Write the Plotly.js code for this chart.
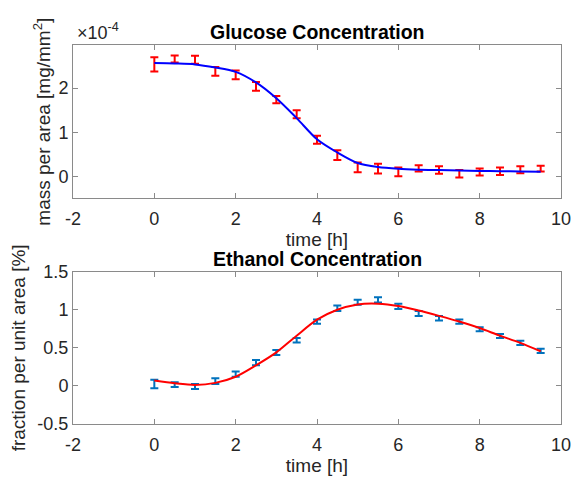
<!DOCTYPE html>
<html>
<head>
<meta charset="utf-8">
<script src="https://cdn.plot.ly/plotly-3.0.1.min.js"></script>
<style>html,body{margin:0;padding:0;background:#fff;}#chart{width:573px;height:479px;}</style>
</head>
<body>
<div id="chart"></div>
<script>
// time points [h]
var timeH = [0, 0.5, 1, 1.5, 2, 2.5, 3, 3.5, 4, 4.5, 5, 5.5, 6, 6.5, 7, 7.5, 8, 8.5, 9, 9.5];

// Glucose (x 1e-4 mg/mm^2)
var glucoseMean = [2.54, 2.66, 2.645, 2.38, 2.30, 2.04, 1.74, 1.41, 0.83, 0.48, 0.20, 0.175, 0.10, 0.18, 0.145, 0.06, 0.096, 0.115, 0.15, 0.175];
var glucoseErr  = [0.16, 0.08, 0.09, 0.10, 0.10, 0.10, 0.08, 0.09, 0.09, 0.11, 0.11, 0.11, 0.10, 0.07, 0.085, 0.085, 0.08, 0.085, 0.08, 0.065];
var glucoseFit  = [2.57, 2.56, 2.54, 2.47, 2.37, 2.13, 1.77, 1.32, 0.84, 0.54, 0.30, 0.21, 0.17, 0.15, 0.14, 0.13, 0.12, 0.115, 0.11, 0.10];

// Ethanol (%)
var ethanolMean = [0.025, 0.017, -0.007, 0.063, 0.155, 0.305, 0.44, 0.60, 0.845, 1.02, 1.10, 1.13, 1.045, 0.95, 0.89, 0.845, 0.745, 0.655, 0.565, 0.46];
var ethanolErr  = [0.055, 0.03, 0.033, 0.037, 0.033, 0.035, 0.033, 0.03, 0.027, 0.035, 0.033, 0.035, 0.033, 0.033, 0.03, 0.027, 0.027, 0.027, 0.027, 0.027];
var ethanolFit  = [0.07, 0.035, 0.013, 0.04, 0.12, 0.27, 0.44, 0.66, 0.87, 1.00, 1.07, 1.08, 1.05, 0.99, 0.92, 0.846, 0.76, 0.66, 0.566, 0.455];

// tick labels
var xTickVals = [-2, 0, 2, 4, 6, 8, 10];
var xTickText = ["-2", "0", "2", "4", "6", "8", "10"];
var gTickVals = [0, 1, 2];
var gTickText = ["0", "1", "2"];
var eTickVals = [-0.5, 0, 0.5, 1, 1.5];
var eTickText = ["-0.5", "0", "0.5", "1", "1.5"];

var FONT = "Liberation Sans, Arial, Helvetica, sans-serif";
var AXC = "#8a8a8a";
var TXC = "#262626";

var traces = [
  {x: timeH, y: glucoseMean, mode: "markers", marker: {opacity: 0, size: 2},
   error_y: {type: "data", array: glucoseErr, visible: true, color: "#ff0000", thickness: 2, width: 4},
   xaxis: "x", yaxis: "y", showlegend: false, hoverinfo: "skip"},
  {x: timeH, y: glucoseFit, mode: "lines", line: {color: "#0000ff", width: 2, shape: "spline", smoothing: 0.8},
   xaxis: "x", yaxis: "y", showlegend: false},
  {x: timeH, y: ethanolMean, mode: "markers", marker: {opacity: 0, size: 2},
   error_y: {type: "data", array: ethanolErr, visible: true, color: "#0072bd", thickness: 2, width: 4},
   xaxis: "x2", yaxis: "y2", showlegend: false, hoverinfo: "skip"},
  {x: timeH, y: ethanolFit, mode: "lines", line: {color: "#ff0000", width: 2, shape: "spline", smoothing: 0.8},
   xaxis: "x2", yaxis: "y2", showlegend: false}
];

function xAxis(anchor) {
  return {
    anchor: anchor, domain: [0, 1], range: [-2, 10],
    tickvals: xTickVals, ticktext: xTickText,
    ticks: "inside", ticklen: 5, tickcolor: AXC, tickwidth: 1,
    showline: true, linecolor: AXC, linewidth: 1, mirror: "ticks",
    showgrid: false, zeroline: false,
    ticklabelstandoff: 4,
    tickfont: {family: FONT, size: 18, color: TXC},
    title: {text: "time [h]", font: {family: FONT, size: 19, color: TXC}, standoff: 0}
  };
}
function yAxis(anchor, domain, range, tv, tt, title, standoff) {
  return {
    anchor: anchor, domain: domain, range: range,
    tickvals: tv, ticktext: tt,
    ticks: "inside", ticklen: 5, tickcolor: AXC, tickwidth: 1,
    showline: true, linecolor: AXC, linewidth: 1, mirror: "ticks",
    showgrid: false, zeroline: false,
    tickfont: {family: FONT, size: 18, color: TXC},
    title: {text: title, font: {family: FONT, size: 19, color: TXC}, standoff: standoff}
  };
}

var topDom = [0.5955, 1];
var botDom = [0, 0.4018];

var layout = {
  width: 573, height: 479,
  margin: {l: 73, r: 12, t: 45, b: 55},
  paper_bgcolor: "#ffffff", plot_bgcolor: "#ffffff",
  xaxis: xAxis("y"),
  yaxis: yAxis("x", topDom, [-0.5, 2.98], gTickVals, gTickText, "mass per area [mg/mm<sup>2</sup>]", 2),
  xaxis2: xAxis("y2"),
  yaxis2: yAxis("x2", botDom, [-0.5, 1.5], eTickVals, eTickText, "fraction per unit area [%]", 6),
  annotations: [
    {text: "<b>Glucose Concentration</b>", xref: "paper", yref: "paper", x: 0.5, y: 1,
     xanchor: "center", yanchor: "bottom", showarrow: false, font: {family: FONT, size: 19.5, color: "#000"}},
    {text: "<b>Ethanol Concentration</b>", xref: "paper", yref: "paper", x: 0.5, y: botDom[1],
     xanchor: "center", yanchor: "bottom", showarrow: false, font: {family: FONT, size: 19.5, color: "#000"}},
    {text: "×10<sup>-4</sup>", xref: "paper", yref: "paper", x: 0, y: 1, xshift: 2,
     xanchor: "left", yanchor: "bottom", showarrow: false, font: {family: FONT, size: 18, color: TXC}}
  ]
};

Plotly.newPlot("chart", traces, layout, {displayModeBar: false, staticPlot: true});
</script>
</body>
</html>
